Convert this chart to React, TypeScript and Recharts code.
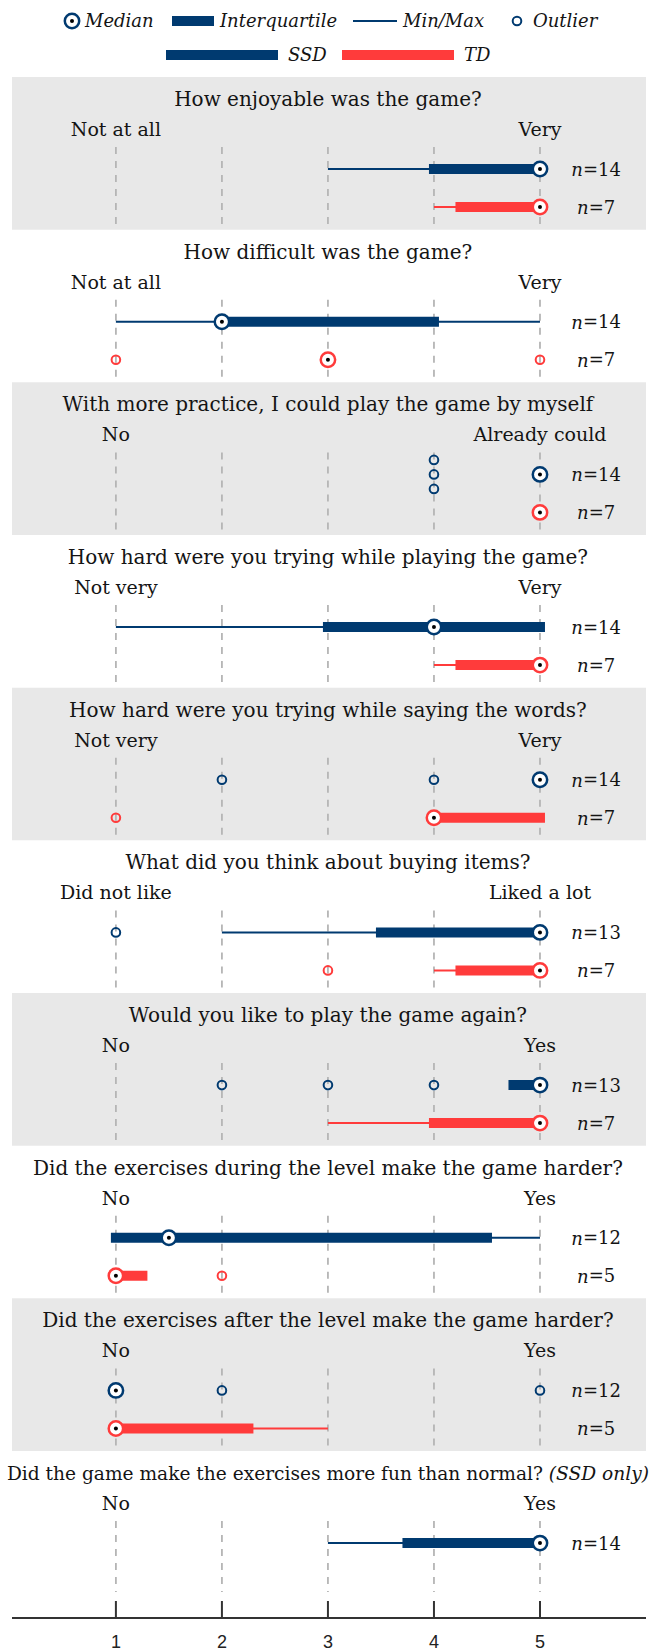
import React from 'react';
import {
  ComposedChart,
  XAxis,
  YAxis,
  Scatter,
  ReferenceLine,
  ReferenceArea,
  Legend
} from 'recharts';

const NAVY = '#003a70';
const RED = '#ff3b3b';
const PANEL_GREY = '#e8e8e8';
const DASH_GREY = '#b5b5b5';
const INK = '#141414';
const SERIF = '"DejaVu Serif", serif';
const SANS = '"Liberation Sans", Arial, sans-serif';

const questions = [
  'How enjoyable was the game?',
  'How difficult was the game?',
  'With more practice, I could play the game by myself',
  'How hard were you trying while playing the game?',
  'How hard were you trying while saying the words?',
  'What did you think about buying items?',
  'Would you like to play the game again?',
  'Did the exercises during the level make the game harder?',
  'Did the exercises after the level make the game harder?',
  'Did the game make the exercises more fun than normal?'
];
const questionNotes = ['', '', '', '', '', '', '', '', '', '(SSD only)'];
const lowLabels = ['Not at all', 'Not at all', 'No', 'Not very', 'Not very', 'Did not like', 'No', 'No', 'No', 'No'];
const highLabels = ['Very', 'Very', 'Already could', 'Very', 'Very', 'Liked a lot', 'Yes', 'Yes', 'Yes', 'Yes'];

// [min, q1, median, q3, max]
const ssdStats = [
  [3, 4, 5, 5, 5],
  [1, 2, 2, 4, 5],
  [5, 5, 5, 5, 5],
  [1, 3, 4, 5, 5],
  [5, 5, 5, 5, 5],
  [2, 3.5, 5, 5, 5],
  [4.75, 4.75, 5, 5, 5],
  [1, 1, 1.5, 4.5, 5],
  [1, 1, 1, 1, 1],
  [3, 3.75, 5, 5, 5]
];
const tdStats = [
  [4, 4.25, 5, 5, 5],
  [3, 3, 3, 3, 3],
  [5, 5, 5, 5, 5],
  [4, 4.25, 5, 5, 5],
  [4, 4, 4, 5, 5],
  [4, 4.25, 5, 5, 5],
  [3, 4, 5, 5, 5],
  [1, 1, 1, 1.25, 1.25],
  [1, 1, 1, 2.25, 3],
  null
];
const ssdOutliers = [[], [], [4, 4, 4], [], [2, 4], [1], [2, 3, 4], [], [2, 5], []];
const tdOutliers = [[], [1, 5], [], [], [1], [3], [], [2], [], []];
const ssdN = [14, 14, 14, 14, 14, 13, 13, 12, 12, 14];
const tdN = [7, 7, 7, 7, 7, 7, 7, 5, 5, null];
const scaleTicks = [1, 2, 3, 4, 5];

// layout (panel units: one question panel = 1)
const W = 651;
const H = 1651;
const AXIS_H = 33;
const PANEL_PX = 152.67;
const FIRST_TOP = 77;
const PLOT_H = H - AXIS_H;
const Y_MIN = -FIRST_TOP / PANEL_PX;
const Y_MAX = (PLOT_H - FIRST_TOP) / PANEL_PX;
const TITLE_OFF = 0.144;
const ANCHOR_OFF = 0.341;
const DASH_OFF = 0.459;
const SSD_OFF = 0.603;
const TD_OFF = 0.852;
const STACK = 0.095;
const LAST_DASH_END = (1592 - FIRST_TOP) / PANEL_PX - (questions.length - 1);
const N_X = 5.53;

const groups = [
  { stats: ssdStats, outliers: ssdOutliers, n: ssdN, off: SSD_OFF, color: NAVY },
  { stats: tdStats, outliers: tdOutliers, n: tdN, off: TD_OFF, color: RED }
];

const medianPoints: any[] = [];
const outlierPoints: any[] = [];
const nPoints: any[] = [];
groups.forEach((g) => {
  g.stats.forEach((s, i) => {
    if (!s) return;
    medianPoints.push({ x: s[2], y: i + g.off, color: g.color });
    nPoints.push({ x: N_X, y: i + g.off, n: g.n[i] });
    const seen: Record<number, number> = {};
    const counts: Record<number, number> = {};
    g.outliers[i].forEach((v) => (counts[v] = (counts[v] || 0) + 1));
    g.outliers[i].forEach((v) => {
      const k = seen[v] || 0;
      seen[v] = k + 1;
      outlierPoints.push({ x: v, y: i + g.off + (k - (counts[v] - 1) / 2) * STACK, color: g.color });
    });
  });
});

const titlePoints = questions.map((q, i) => ({ x: 3, y: i + TITLE_OFF, text: q, note: questionNotes[i] }));
const anchorPoints = questions.flatMap((_, i) => [
  { x: 1, y: i + ANCHOR_OFF, text: lowLabels[i] },
  { x: 5, y: i + ANCHOR_OFF, text: highLabels[i] }
]);

const MedianShape = (props: any) => {
  const { cx, cy, payload } = props;
  return (
    <g>
      <circle cx={cx} cy={cy} r={7.2} fill="#fff" stroke={payload.color} strokeWidth={2.5} />
      <circle cx={cx} cy={cy} r={2} fill="#000" />
    </g>
  );
};

const OutlierShape = (props: any) => {
  const { cx, cy, payload } = props;
  return <circle cx={cx} cy={cy} r={4.3} fill="none" stroke={payload.color} strokeWidth={2} />;
};

const TitleShape = (props: any) => {
  const { cx, cy, payload } = props;
  // the long last title is set a little smaller so it fits the width
  return (
    <text
      x={cx}
      y={cy}
      textAnchor="middle"
      dominantBaseline="central"
      fontFamily={SERIF}
      fontSize={payload.note ? 18.6 : 20}
      fill={INK}
    >
      {payload.text}
      {payload.note ? <tspan fontStyle="italic">{' ' + payload.note}</tspan> : null}
    </text>
  );
};

const AnchorShape = (props: any) => {
  const { cx, cy, payload } = props;
  return (
    <text x={cx} y={cy} textAnchor="middle" dominantBaseline="central" fontFamily={SERIF} fontSize={19} fill={INK}>
      {payload.text}
    </text>
  );
};

const NShape = (props: any) => {
  const { cx, cy, payload } = props;
  return (
    <text x={cx} y={cy} textAnchor="middle" dominantBaseline="central" fontFamily={SERIF} fontSize={18} fill={INK}>
      <tspan fontStyle="italic">n</tspan>={payload.n}
    </text>
  );
};

const AxisTick = (props: any) => {
  const { x, y, payload } = props;
  return (
    <g>
      <line x1={x} x2={x} y1={y - 17} y2={y} stroke="#333" strokeWidth={2} />
      <text x={x} y={y + 30} textAnchor="middle" fontFamily={SANS} fontSize={18} fill="#222">
        {payload.value}
      </text>
    </g>
  );
};

const legendText = { fontFamily: SERIF, fontSize: 18, fontStyle: 'italic' as const, fill: INK };

const LegendBox = () => (
  <svg width={W} height={72} style={{ display: 'block' }}>
    <circle cx={72} cy={21} r={7.2} fill="#fff" stroke={NAVY} strokeWidth={2.5} />
    <circle cx={72} cy={21} r={2} fill="#000" />
    <text x={85} y={27} {...legendText}>Median</text>
    <line x1={172} x2={214} y1={21} y2={21} stroke={NAVY} strokeWidth={10} />
    <text x={220} y={27} {...legendText}>Interquartile</text>
    <line x1={353} x2={397} y1={21} y2={21} stroke={NAVY} strokeWidth={2} />
    <text x={403} y={27} {...legendText}>Min/Max</text>
    <circle cx={517} cy={21} r={4.3} fill="none" stroke={NAVY} strokeWidth={2} />
    <text x={533} y={27} {...legendText}>Outlier</text>
    <line x1={166} x2={278} y1={55} y2={55} stroke={NAVY} strokeWidth={10} />
    <text x={288} y={61} {...legendText}>SSD</text>
    <line x1={342} x2={454} y1={55} y2={55} stroke={RED} strokeWidth={10} />
    <text x={464} y={61} {...legendText}>TD</text>
  </svg>
);

export default function App() {
  return (
    <div style={{ width: W, height: H }}>
      <style>{'body{margin:0}'}</style>
      <ComposedChart width={W} height={H} margin={{ top: 0, right: 5, bottom: 0, left: 12 }}>
        <XAxis
          type="number"
          dataKey="x"
          domain={[0.02, 6]}
          ticks={scaleTicks}
          tickSize={0}
          tickMargin={0}
          tickLine={false}
          tick={<AxisTick />}
          axisLine={{ stroke: '#333', strokeWidth: 2 }}
          height={AXIS_H}
        />
        <YAxis type="number" dataKey="y" domain={[Y_MIN, Y_MAX]} reversed hide />
        <Legend
          verticalAlign="middle"
          align="center"
          content={() => <LegendBox />}
          wrapperStyle={{ top: 0, left: 0, width: W, height: 72 }}
        />

        {questions.map((_, i) =>
          i % 2 === 0 ? (
            <ReferenceArea key={'bg' + i} x1={0.02} x2={6} y1={i} y2={i + 1} fill={PANEL_GREY} fillOpacity={1} stroke="none" />
          ) : null
        )}

        {questions.flatMap((_, i) =>
          scaleTicks.map((t) => (
            <ReferenceLine
              key={'grid' + i + '-' + t}
              segment={[
                { x: t, y: i + DASH_OFF },
                { x: t, y: i === questions.length - 1 ? i + LAST_DASH_END : i + 1 }
              ]}
              stroke={DASH_GREY}
              strokeWidth={1.8}
              strokeDasharray="7 7"
            />
          ))
        )}

        {groups.flatMap((g, gi) =>
          g.stats.map((s, i) =>
            s && s[4] > s[0] ? (
              <ReferenceLine
                key={'whisk' + gi + '-' + i}
                segment={[
                  { x: s[0], y: i + g.off },
                  { x: s[4], y: i + g.off }
                ]}
                stroke={g.color}
                strokeWidth={2}
              />
            ) : null
          )
        )}

        {groups.flatMap((g, gi) =>
          g.stats.map((s, i) =>
            s && s[3] > s[1] ? (
              <ReferenceLine
                key={'box' + gi + '-' + i}
                segment={[
                  { x: s[1], y: i + g.off },
                  { x: s[3], y: i + g.off }
                ]}
                stroke={g.color}
                strokeWidth={10}
                strokeLinecap="square"
              />
            ) : null
          )
        )}

        <Scatter data={outlierPoints} shape={OutlierShape} isAnimationActive={false} />
        <Scatter data={medianPoints} shape={MedianShape} isAnimationActive={false} />
        <Scatter data={titlePoints} shape={TitleShape} isAnimationActive={false} />
        <Scatter data={anchorPoints} shape={AnchorShape} isAnimationActive={false} />
        <Scatter data={nPoints} shape={NShape} isAnimationActive={false} />
      </ComposedChart>
    </div>
  );
}
